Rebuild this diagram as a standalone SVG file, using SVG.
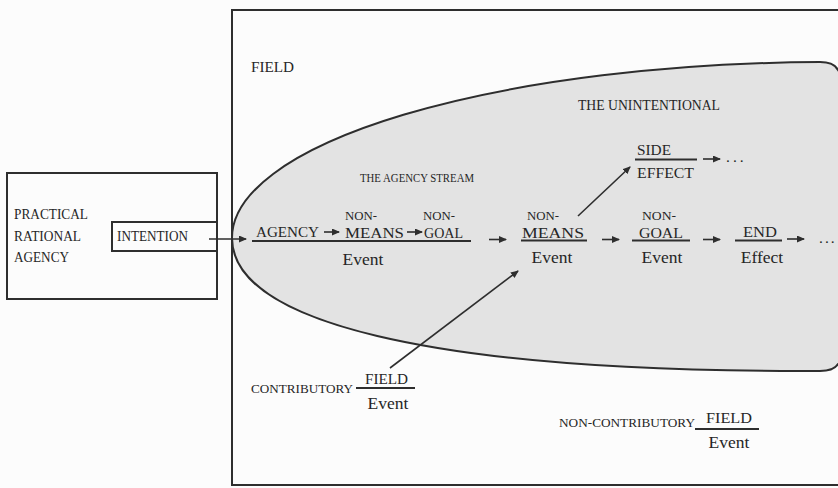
<svg xmlns="http://www.w3.org/2000/svg" width="838" height="488" viewBox="0 0 838 488">
<defs>
<style>
text{font-family:"Liberation Serif","Times New Roman",serif;fill:#262626}
.c{font-size:14px}
.n{font-size:12.5px}
.w{font-size:15.5px}
.ev{font-size:17.5px;text-anchor:middle}
.ln{stroke:#2e2e2e;stroke-width:2;fill:none}
.bar{stroke:#2e2e2e;stroke-width:2.2}
.ar{stroke:#2e2e2e;stroke-width:1.6;fill:none;marker-end:url(#ah)}
</style>
<marker id="ah" markerUnits="userSpaceOnUse" markerWidth="8" markerHeight="7" refX="7" refY="3.5" orient="auto">
<path d="M0,0 L8,3.5 L0,7 z" fill="#2e2e2e"/>
</marker>
</defs>
<rect width="838" height="488" fill="#fcfcfc"/>

<g id="field">
<path class="ln" d="M842,10 L232,10 L232,485 L842,485"/>
<text x="251" y="72" class="w" textLength="43" lengthAdjust="spacingAndGlyphs">FIELD</text>
</g>

<g id="unintentional">
<path d="M232,238 A600,176 0 0 1 820,62 Q834,62 838,70 L842,76 L842,362 L838,364 Q834,371 820,371 L800,371 C430,371 232,322 232,238 Z" fill="#e3e3e3" stroke="#2e2e2e" stroke-width="2"/>
<text x="578" y="110" class="c" textLength="142" lengthAdjust="spacingAndGlyphs">THE UNINTENTIONAL</text>
<text x="360" y="182" style="font-size:12px" textLength="114" lengthAdjust="spacingAndGlyphs">THE AGENCY STREAM</text>
</g>

<g id="agent">
<rect x="7" y="173" width="210" height="126" class="ln"/>
<rect x="112" y="222" width="105" height="29" class="ln"/>
<text x="14" y="219" class="c" textLength="74" lengthAdjust="spacingAndGlyphs">PRACTICAL</text>
<text x="14" y="241" class="c" textLength="67" lengthAdjust="spacingAndGlyphs">RATIONAL</text>
<text x="14" y="262" class="c" textLength="55" lengthAdjust="spacingAndGlyphs">AGENCY</text>
<text x="117" y="241" class="c" textLength="71" lengthAdjust="spacingAndGlyphs">INTENTION</text>
</g>

<g id="agency-event">
<line x1="252" y1="241" x2="471" y2="241" class="bar"/>
<text x="256" y="237" class="w" textLength="63" lengthAdjust="spacingAndGlyphs">AGENCY</text>
<text x="345" y="220" class="n" textLength="32" lengthAdjust="spacingAndGlyphs">NON-</text>
<text x="345" y="237.5" class="w" textLength="59" lengthAdjust="spacingAndGlyphs">MEANS</text>
<text x="423" y="220" class="n" textLength="32" lengthAdjust="spacingAndGlyphs">NON-</text>
<text x="424" y="237.5" class="w" textLength="39" lengthAdjust="spacingAndGlyphs">GOAL</text>
<text x="363" y="265" class="ev">Event</text>
</g>

<g id="nonmeans-event">
<line x1="521" y1="240.5" x2="587" y2="240.5" class="bar"/>
<text x="527" y="220" class="n" textLength="32" lengthAdjust="spacingAndGlyphs">NON-</text>
<text x="522" y="237.5" class="w" textLength="62" lengthAdjust="spacingAndGlyphs">MEANS</text>
<text x="552" y="263" class="ev">Event</text>
</g>

<g id="nongoal-event">
<line x1="632" y1="240.5" x2="690" y2="240.5" class="bar"/>
<text x="642" y="220" class="n" textLength="34" lengthAdjust="spacingAndGlyphs">NON-</text>
<text x="639" y="237.5" class="w" textLength="44" lengthAdjust="spacingAndGlyphs">GOAL</text>
<text x="662" y="263" class="ev">Event</text>
</g>

<g id="end-effect">
<line x1="735" y1="240.5" x2="782" y2="240.5" class="bar"/>
<text x="743" y="237" class="w" textLength="34" lengthAdjust="spacingAndGlyphs">END</text>
<text x="762" y="263" class="ev">Effect</text>
<text x="819" y="243" class="w" letter-spacing="2">...</text>
</g>

<g id="side-effect">
<line x1="635" y1="159.5" x2="697" y2="159.5" class="bar"/>
<text x="637" y="155" class="w" textLength="34" lengthAdjust="spacingAndGlyphs">SIDE</text>
<text x="637" y="178" class="w" textLength="57" lengthAdjust="spacingAndGlyphs">EFFECT</text>
<text x="726" y="162" class="w" letter-spacing="3">...</text>
</g>

<g id="contributory">
<line x1="356" y1="388" x2="415" y2="388" class="bar"/>
<text x="251" y="393" style="font-size:13px" textLength="102" lengthAdjust="spacingAndGlyphs">CONTRIBUTORY</text>
<text x="365" y="384" class="w" textLength="43" lengthAdjust="spacingAndGlyphs">FIELD</text>
<text x="388" y="409" class="ev">Event</text>
</g>

<g id="noncontributory">
<line x1="695" y1="429" x2="759" y2="429" class="bar"/>
<text x="559" y="427" style="font-size:13px" textLength="136" lengthAdjust="spacingAndGlyphs">NON-CONTRIBUTORY</text>
<text x="706" y="423" class="w" textLength="46" lengthAdjust="spacingAndGlyphs">FIELD</text>
<text x="729" y="448" class="ev">Event</text>
</g>

<g id="connectors">
<line x1="209" y1="239" x2="246" y2="239" class="ar"/>
<line x1="324" y1="232" x2="339" y2="232" class="ar"/>
<line x1="407" y1="232" x2="422" y2="232" class="ar"/>
<line x1="489" y1="239.5" x2="506" y2="239.5" class="ar"/>
<line x1="602" y1="239.5" x2="619" y2="239.5" class="ar"/>
<line x1="703" y1="239.5" x2="720" y2="239.5" class="ar"/>
<line x1="787" y1="239" x2="804" y2="239" class="ar"/>
<line x1="703" y1="159" x2="720" y2="159" class="ar"/>
<line x1="578" y1="216" x2="630" y2="167" class="ar"/>
<line x1="390" y1="368" x2="518" y2="271" class="ar"/>
</g>
</svg>
